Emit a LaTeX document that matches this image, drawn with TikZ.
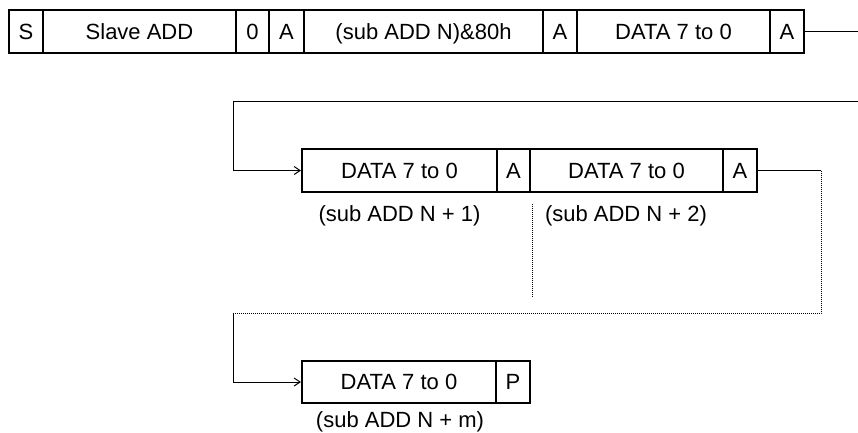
\documentclass[tikz,border=0pt]{standalone}
\usepackage{fontspec}
\setmainfont{Liberation Sans}
\usetikzlibrary{arrows.meta}
\begin{document}
\begin{tikzpicture}[x=1pt,y=-1pt,
  cell/.style={draw=black,line width=2pt,rectangle,inner sep=0pt,minimum height=43pt,text height=15.8pt,text depth=0pt,font=\fontsize{22}{26}\selectfont},
  lab/.style={inner sep=0pt,anchor=base,font=\fontsize{22}{26}\selectfont},
  conn/.style={draw=black,line width=1pt},
  dotconn/.style={draw=black,line width=0.8pt,dash pattern=on 1pt off 1pt},
  arr/.style={-{Straight Barb[length=6pt,width=8pt]}}]
\useasboundingbox (0,0) rectangle (858,432);
% row 1
\node[cell,minimum width=34pt] (s) at (26,31.5) {S};
\node[cell,minimum width=193pt] (slave) at (139.5,31.5) {Slave ADD};
\node[cell,minimum width=33pt] (zero) at (252.5,31.5) {0};
\node[cell,minimum width=35pt] (a1) at (286.5,31.5) {A};
\node[cell,minimum width=239pt] (sub) at (423.5,31.5) {(sub ADD N)\&80h};
\node[cell,minimum width=34pt] (a2) at (560,31.5) {A};
\node[cell,minimum width=193pt] (d0) at (673.5,31.5) {DATA 7 to 0};
\node[cell,minimum width=34pt] (a3) at (787,31.5) {A};
\coordinate (e1) at (858,31.5);
\draw[conn] (a3.east) -- (e1);
% row 2
\node[cell,minimum width=195pt] (d1) at (399.5,170.5) {DATA 7 to 0};
\node[cell,minimum width=33pt] (a4) at (513.5,170.5) {A};
\node[cell,minimum width=193pt] (d2) at (626.5,170.5) {DATA 7 to 0};
\node[cell,minimum width=34pt] (a5) at (740,170.5) {A};
\node[lab] (l1) at (399.5,221) {(sub ADD N + 1)};
\node[lab] (l2) at (626,221) {(sub ADD N + 2)};
\coordinate (s1) at (858,101);
\coordinate (c1) at (233,101);
\draw[conn,arr] (s1) -- (c1) |- (d1.west);
\coordinate (r2) at (821,170.5);
\coordinate (r3) at (821,313);
\coordinate (c3) at (233,313);
\draw[conn] (a5.east) -- (r2);
\draw[dotconn] (r2) -- (r3) -- (c3);
\coordinate (v1) at (532,204);
\coordinate (v2) at (532,298);
\draw[dotconn] (v1) -- (v2);
% row 3
\node[cell,minimum width=194pt,minimum height=42pt] (d3) at (399,382) {DATA 7 to 0};
\node[cell,minimum width=34pt,minimum height=42pt] (p) at (513,382) {P};
\node[lab] (l3) at (400,427) {(sub ADD N + m)};
\draw[conn,arr] (c3) |- (d3.west);
\end{tikzpicture}
\end{document}
